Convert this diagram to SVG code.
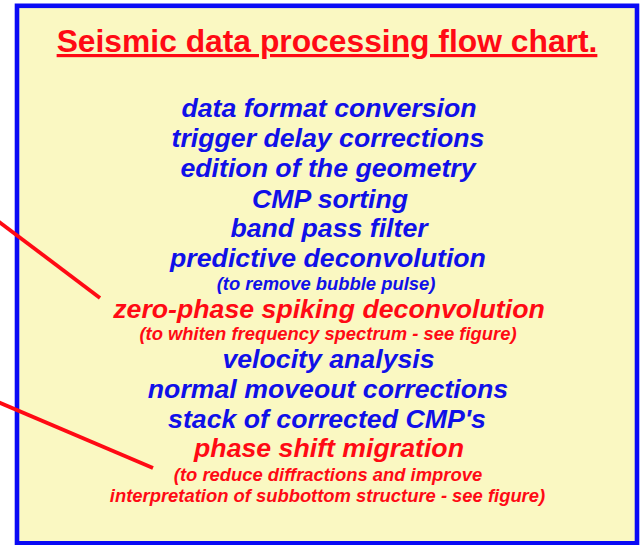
<svg xmlns="http://www.w3.org/2000/svg" width="640" height="545" viewBox="0 0 640 545">
  <style>
    .frame { fill: #FAF8C2; stroke: #0A0AF5; stroke-width: 4.6; }
    .title { font-family: "Liberation Sans", Arial, sans-serif; font-weight: bold; font-size: 31.8px; fill: #FF0A14; text-anchor: middle; text-decoration: underline; }
    .step { font-family: "Liberation Sans", Arial, sans-serif; font-weight: bold; font-style: italic; font-size: 26.7px; text-anchor: middle; }
    .note { font-family: "Liberation Sans", Arial, sans-serif; font-weight: bold; font-style: italic; font-size: 18.4px; text-anchor: middle; }
    .blue { fill: #1010E8; }
    .red { fill: #FF0A14; }
    .pointer { stroke: #FF0A14; stroke-width: 3.8; stroke-linecap: butt; fill: none; }
  </style>

  <rect width="640" height="545" fill="#FFFFFF"/>
  <rect id="panel" class="frame" x="17" y="5.8" width="620" height="537.5"/>

  <g id="title">
    <text class="title" x="327" y="52">Seismic data processing flow chart.</text>
  </g>

  <g id="step-format"><text class="step blue" x="329" y="117">data format conversion</text></g>
  <g id="step-trigger"><text class="step blue" x="328" y="147">trigger delay corrections</text></g>
  <g id="step-geometry"><text class="step blue" x="328" y="177">edition of the geometry</text></g>
  <g id="step-cmp"><text class="step blue" x="330" y="207.5">CMP sorting</text></g>
  <g id="step-bandpass"><text class="step blue" x="329" y="237">band pass filter</text></g>
  <g id="step-predictive">
    <text class="step blue" x="328" y="267">predictive deconvolution</text>
    <text class="note blue" x="326" y="290" font-size="18.2">(to remove bubble pulse)</text>
  </g>
  <g id="step-spiking">
    <text class="step red" x="329" y="317.5">zero-phase spiking deconvolution</text>
    <text class="note red" x="328" y="340">(to whiten frequency spectrum - see figure)</text>
  </g>
  <g id="step-velocity"><text class="step blue" x="328.5" y="368">velocity analysis</text></g>
  <g id="step-nmo"><text class="step blue" x="328" y="398">normal moveout corrections</text></g>
  <g id="step-stack"><text class="step blue" x="327" y="428">stack of corrected CMP's</text></g>
  <g id="step-migration">
    <text class="step red" x="329" y="457">phase shift migration</text>
    <text class="note red" x="328" y="481">(to reduce diffractions and improve</text>
    <text class="note red" x="327.5" y="502">interpretation of subbottom structure - see figure)</text>
  </g>

  <g id="connectors">
    <line class="pointer" x1="-2" y1="221" x2="100" y2="298"/>
    <line class="pointer" x1="-2" y1="402" x2="153" y2="468"/>
  </g>
</svg>
